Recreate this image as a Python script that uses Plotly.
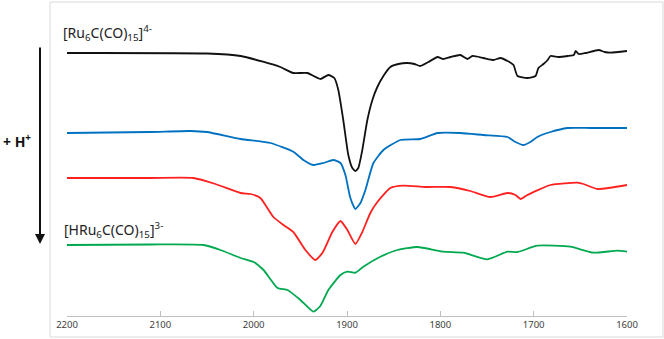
import plotly.graph_objects as go

# Wavenumbers (cm-1) and offset transmittance (a.u.) for each spectrum
wn_black = [2200, 2050, 2014, 1990, 1971.5, 1957.5, 1942.5, 1928.6, 1920, 1913.6, 1909.3, 1904, 1898.6,
            1894.3, 1891, 1887.9, 1883.6, 1878.2, 1872.8, 1867.5, 1861, 1853.6, 1845, 1835.3, 1827.8,
            1821.4, 1812.8, 1803, 1796.8, 1789, 1778.6, 1771, 1765.6, 1753.8, 1743, 1735.6, 1728, 1721.6,
            1717.4, 1706.7, 1698, 1694.9, 1689.5, 1685, 1682, 1673.4, 1663.6, 1657, 1655, 1651.8, 1644.4,
            1630.4, 1624, 1617.6, 1600]
t_black = [263, 262.5, 260, 254.3, 249, 243, 243, 237, 241, 238, 226, 196, 161,
           148, 145, 148, 166, 196, 216, 229, 240, 249, 252, 253, 252,
           250, 254, 259, 257, 259, 261, 257, 260, 258, 256, 258, 255, 251,
           240, 238, 240, 248, 252, 256, 260, 259, 260, 261, 265, 262, 263,
           266, 264, 263.3, 265]

wn_blue = [2200, 2110.7, 2067.8, 2050, 2014, 1982, 1957.5, 1946.7, 1936, 1925.3, 1914.6, 1907, 1901.7,
           1896.4, 1891, 1885.6, 1880.3, 1871.7, 1861, 1842.8, 1821.4, 1803, 1778.6, 1753.8, 1728,
           1719.5, 1711, 1703.5, 1696, 1682, 1663.6, 1639, 1600]
t_blue = [183, 184, 185, 184, 177, 173, 164.3, 156, 151, 153, 156, 153, 141,
          118, 107, 113, 126, 153, 166, 176, 177, 183, 183, 181, 179,
          174, 171, 174, 179, 184, 188, 188, 188]

wn_red = [2200, 2110.7, 2064.6, 2041, 2014, 2003.5, 1992.8, 1978.9, 1968, 1957.5, 1944.6, 1934, 1926.4,
          1915.7, 1907, 1899.6, 1891, 1883.6, 1875, 1867.5, 1853.6, 1839.6, 1816, 1789, 1767.9, 1746.4,
          1728, 1719.5, 1714, 1706.7, 1682, 1653, 1646.6, 1631.6, 1600]
t_red = [138, 138, 138, 132, 123, 122, 118, 99, 91, 84, 66, 56, 63,
         84, 95, 86, 72, 84, 103, 114, 128, 130.3, 129, 129, 125, 119,
         123, 121, 117, 121, 131, 133.3, 132, 127, 131]

wn_green = [2200, 2110.7, 2053.9, 2035.6, 2014, 2000, 1989.4, 1974.4, 1963.6, 1949.9, 1936, 1928.6, 1920,
            1907, 1899.6, 1891, 1882.5, 1864.3, 1846, 1824.7, 1796.8, 1775.3, 1749.6, 1728, 1717.4, 1696,
            1660.7, 1636, 1610.3, 1600]
t_green = [71, 71.5, 71, 66, 58, 54, 46, 28, 26, 16, 4.3, 10, 26,
           41, 44.3, 43.3, 49.3, 59.3, 66, 69, 64.3, 63.3, 56.7, 64.3, 64, 70.3,
           69.3, 63.3, 65.3, 64.3]

x_ticks = [2200, 2100, 2000, 1900, 1800, 1700, 1600]

series = [
    (wn_black, t_black, "#111111"),
    (wn_blue, t_blue, "#0070C0"),
    (wn_red, t_red, "#FF2020"),
    (wn_green, t_green, "#00A84F"),
]

fig = go.Figure()
for wn, t, col in series:
    fig.add_trace(go.Scatter(x=wn, y=t, mode="lines",
                             line=dict(color=col, width=1.8, shape="spline", smoothing=0.5),
                             showlegend=False, hoverinfo="skip"))

L, R, T, B = 67, 37, 2, 23
W, H = 664, 339
pw, ph = W - L - R, H - T - B

def px2paper_x(px):
    return (px - L) / pw

def py2paper_y(py):
    return (H - B - py) / ph

fig.update_layout(
    width=W, height=H,
    margin=dict(l=L, r=R, t=T, b=B),
    paper_bgcolor="white", plot_bgcolor="white",
    font=dict(family="Noto Sans, Open Sans, sans-serif", color="#404040"),
    xaxis=dict(range=[2200, 1600], tickvals=x_ticks, ticktext=[str(v) for v in x_ticks],
               showgrid=False, zeroline=False, showline=True, linecolor="#BFBFBF", linewidth=1,
               ticks="inside", ticklen=5, tickcolor="#BFBFBF", tickfont=dict(size=9.5, color="#404040")),
    yaxis=dict(range=[0, ph], visible=False, showgrid=False, zeroline=False),
    shapes=[
        dict(type="rect", xref="paper", yref="paper",
             x0=px2paper_x(50), x1=px2paper_x(663), y0=py2paper_y(337), y1=py2paper_y(2),
             line=dict(color="#D9D9D9", width=1), fillcolor="rgba(0,0,0,0)", layer="below"),
    ],
    annotations=[
        dict(xref="paper", yref="paper", x=px2paper_x(61), y=py2paper_y(33),
             xanchor="left", yanchor="middle", showarrow=False,
             text="[Ru<sub>6</sub>C(CO)<sub>15</sub>]<sup>4-</sup>",
             font=dict(size=14, color="#222222")),
        dict(xref="paper", yref="paper", x=px2paper_x(62), y=py2paper_y(230),
             xanchor="left", yanchor="middle", showarrow=False,
             text="[HRu<sub>6</sub>C(CO)<sub>15</sub>]<sup>3-</sup>",
             font=dict(size=14, color="#222222")),
        dict(xref="paper", yref="paper", x=px2paper_x(40), y=py2paper_y(244),
             ax=0, ay=-(244 - 46), axref="pixel", ayref="pixel",
             showarrow=True, arrowhead=2, arrowsize=1, arrowwidth=2, arrowcolor="#111111", text=""),
        dict(xref="paper", yref="paper", x=px2paper_x(33), y=py2paper_y(141),
             xanchor="right", yanchor="middle", showarrow=False,
             text="<b>+ H<sup>+</sup></b>", font=dict(size=14, color="#111111")),
    ],
)

fig.write_html("out.html", config={"displayModeBar": False, "staticPlot": True},
               post_script="document.body.style.margin='0';document.body.style.overflow='hidden';")
